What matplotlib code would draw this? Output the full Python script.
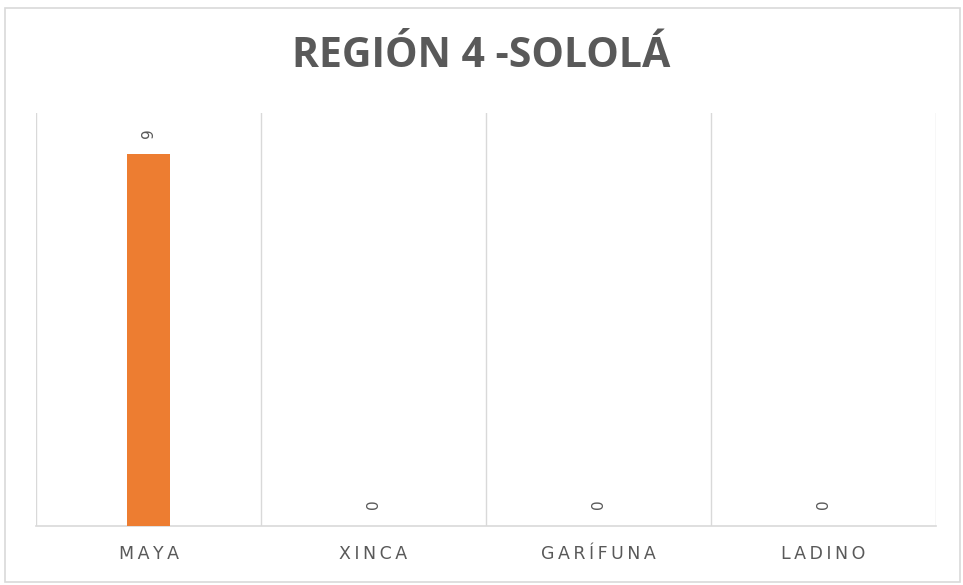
import matplotlib.pyplot as plt
from matplotlib.patches import Rectangle

# data
categories = ['MAYA', 'XINCA', 'GARÍFUNA', 'LADINO']
values = [9, 0, 0, 0]
title = 'REGIÓN 4 -SOLOLÁ'

gray = '#595959'
grid = '#d9d9d9'

fig = plt.figure(figsize=(9.63, 5.85), dpi=100)
ax = fig.add_axes([0.0374, 0.1009, 0.9346, 0.7060])

x = list(range(len(categories)))
ax.bar(x, values, width=0.19, color='#ED7D31', zorder=3)

for xi, v in zip(x, values):
    ax.text(xi, v + 0.4, str(v), rotation=90, ha='center', va='bottom',
            fontsize=11, color=gray)

ax.set_xlim(-0.5, len(categories) - 0.5)
ax.set_ylim(0, 10)

# category separators
for b in range(len(categories) + 1):
    ax.axvline(b - 0.5, color=grid, lw=1, zorder=1)

for s in ['top', 'left', 'right']:
    ax.spines[s].set_visible(False)
ax.spines['bottom'].set_color(grid)
ax.spines['bottom'].set_linewidth(1.2)

spaced = ['\u2009'.join(c) for c in categories]
ax.set_xticks(x)
ax.set_xticklabels(spaced, fontsize=12.5, color=gray)
ax.tick_params(axis='x', length=0, pad=14)
ax.set_yticks([])

fig.text(0.5, 0.903, title, ha='center', va='center',
         fontsize=29.5, fontweight='bold', color=gray, family='Open Sans')

# outer frame
fig.patches.append(Rectangle((5 / 963, 3 / 585), 955 / 963, 574 / 585,
                             transform=fig.transFigure, fill=False,
                             edgecolor=grid, lw=1.2))

fig.savefig('out.png', dpi=100)
